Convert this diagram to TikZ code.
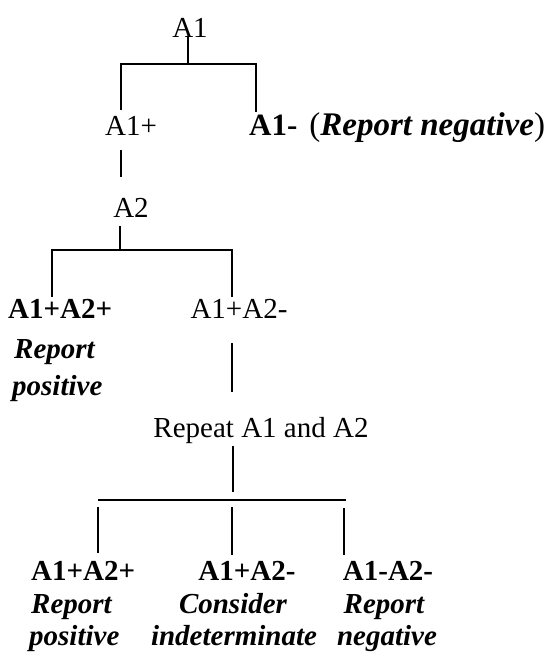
\documentclass[tikz,border=0pt]{standalone}
\usepackage{fontspec}
\setmainfont{Liberation Serif}
\begin{document}
\begin{tikzpicture}[x=1pt,y=-1pt,
  txt/.style={inner sep=0pt,font=\fontsize{29}{35}\selectfont},
  bt/.style={txt,font=\fontsize{29}{35}\selectfont\bfseries},
  bi/.style={txt,font=\fontsize{29}{35}\selectfont\bfseries\itshape},
  ln/.style={line width=1.6pt,line cap=butt}]
\useasboundingbox[fill=white] (0,0) rectangle (559,652);
% texts
\node[txt,anchor=base] (a1) at (190,38) {A1};
\node[txt,anchor=base] (a1p) at (131,136) {A1+};
\node[txt,anchor=base west] (a1m) at (249,136) {{\fontsize{31}{35}\selectfont\textbf{A1-}}\, {\fontsize{33}{38}\selectfont(\textbf{\textit{Report negative}})}};
\node[txt,anchor=base] (a2) at (131,217) {A2};
\node[bt,anchor=base west] (ppa) at (8,318) {A1+A2+};
\node[bi,anchor=base west] (ppb) at (14,358) {Report};
\node[bi,anchor=base west] (ppc) at (12,395) {positive};
\node[txt,anchor=base] (pm) at (239,318) {A1+A2-};
\node[txt,anchor=base] (rep) at (261,437) {Repeat A1 and A2};
\node[bt,anchor=base west] (qa) at (31,580) {A1+A2+};
\node[bi,anchor=base west] (qb) at (31,613) {Report};
\node[bi,anchor=base west] (qc) at (29,645) {positive};
\node[bt,anchor=base] (ra) at (247,580) {A1+A2-};
\node[bi,anchor=base] (rb) at (233,613) {Consider};
\node[bi,anchor=base] (rc) at (234,645) {indeterminate};
\node[bt,anchor=base] (sa) at (388,580) {A1-A2-};
\node[bi,anchor=base] (sb) at (384,613) {Report};
\node[bi,anchor=base] (sc) at (387,645) {negative};
% connector points
\coordinate (a1s) at (188,36);
\coordinate (b1m) at (188,64);
\coordinate (b1l) at (121,64);
\coordinate (b1r) at (256,64);
\coordinate (a1pt) at (121,110);
\coordinate (a1mt) at (256,112);
\coordinate (a1pb) at (121,150);
\coordinate (a2t) at (121,177);
\coordinate (a2b) at (120,226);
\coordinate (b2m) at (120,250);
\coordinate (b2l) at (52,250);
\coordinate (b2r) at (232,250);
\coordinate (ppt) at (52,297);
\coordinate (pmt) at (232,297);
\coordinate (pmb) at (232,343);
\coordinate (rept) at (232,392);
\coordinate (repb) at (233,446);
\coordinate (b3m) at (233,492);
\coordinate (b3l) at (98,500);
\coordinate (b3r) at (346,500);
\coordinate (q1) at (98,507);
\coordinate (q2) at (98,553);
\coordinate (r1) at (232,507);
\coordinate (r2) at (232,555);
\coordinate (s1) at (344,508);
\coordinate (s2) at (344,555);
% connectors
\draw[ln] (a1s) -- (b1m);
\draw[ln] (a1pt) -- (b1l) -- (b1r) -- (a1mt);
\draw[ln] (a1pb) -- (a2t);
\draw[ln] (a2b) -- (b2m);
\draw[ln] (ppt) -- (b2l) -- (b2r) -- (pmt);
\draw[ln] (pmb) -- (rept);
\draw[ln] (repb) -- (b3m);
\draw[ln] (b3l) -- (b3r);
\draw[ln] (q1) -- (q2);
\draw[ln] (r1) -- (r2);
\draw[ln] (s1) -- (s2);
\end{tikzpicture}
\end{document}
